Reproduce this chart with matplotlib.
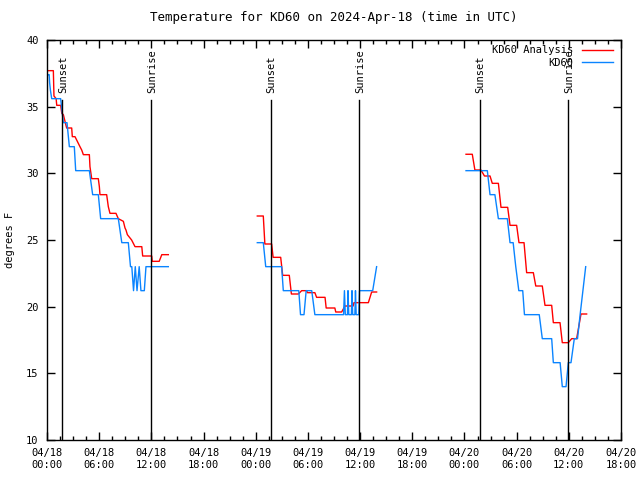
import matplotlib
matplotlib.use("Agg")
import matplotlib.pyplot as plt
import numpy as np

nan = float("nan")

# hours since 2024-04-18 00:00 UTC
analysis_t = [0.15, 0.73, 0.8, 1.05, 1.12, 1.57, 1.7, 1.88, 2.07, 2.26, 2.84, 2.91, 3.22,
              3.79, 3.99, 4.18, 4.87, 4.94, 5.14, 5.9, 6.02, 6.09, 6.86, 7.05, 7.24, 7.93,
              8.2, 8.78, 8.97, 9.08, 9.24, 9.73, 10.12, 10.9, 11.0, 12.04, 12.1, 12.9, 13.2,
              13.95, nan,
              24.18, 24.87, 25.05, 25.83, 26.0, 26.87, 27.1, 27.86, 28.1, 28.9, 29.28, 29.85,
              29.95, 30.8, 31.0, 31.97, 32.1, 33.1, 33.2, 33.88, 34.26, 35.2, 35.3, 36.95,
              37.33, 37.9, nan,
              48.18, 48.9, 49.2, 49.9, 50.3, 50.94, 51.2, 51.9, 52.2, 52.97, 53.24, 54.0,
              54.27, 54.85, 55.15, 55.92, 56.2, 56.95, 57.26, 58.03, 58.22, 58.99, 59.25,
              59.94, 60.33, 60.9, 61.4, 62.05]
analysis_f = [37.7, 37.7, 35.8, 35.6, 35.1, 35.1, 34.5, 34.4, 33.9, 33.4, 33.4, 32.75, 32.75,
              32.0, 31.75, 31.4, 31.4, 30.5, 29.6, 29.6, 29.0, 28.4, 28.4, 27.5, 27.0, 27.0,
              26.6, 26.4, 25.9, 25.75, 25.4, 25.0, 24.5, 24.5, 23.8, 23.8, 23.4, 23.4, 23.9,
              23.9, nan,
              26.8, 26.8, 24.7, 24.7, 23.7, 23.7, 22.35, 22.35, 20.95, 20.95, 21.2, 21.2,
              21.05, 21.05, 20.7, 20.7, 19.9, 19.9, 19.6, 19.6, 20.05, 20.05, 20.3, 20.3,
              21.1, 21.1, nan,
              31.43, 31.43, 30.25, 30.25, 29.8, 29.8, 29.25, 29.25, 27.45, 27.45, 26.1, 26.1,
              24.8, 24.8, 22.55, 22.55, 21.55, 21.55, 20.1, 20.1, 18.8, 18.8, 17.3,
              17.3, 17.6, 17.6, 19.45, 19.45]

obs_t = [0.15, 0.25, 0.3, 0.4, 0.54, 1.57, 1.88, 2.3, 2.57, 3.14, 3.3, 4.87, 5.25, 5.9,
         6.17, 8.2, 8.6, 9.35, 9.6, 9.75, 9.95, 10.15, 10.35, 10.6, 10.8, 11.19, 11.38,
         13.95, nan,
         24.18, 24.87, 25.15, 26.98, 27.17, 28.95, 29.15, 29.55, 29.8, 30.44, 30.8, 34.1,
         34.2, 34.3, 34.55, 34.61, 34.7, 35.0, 35.07, 35.15, 35.4, 35.47, 35.55, 35.85,
         35.93, 37.45, 37.9, nan,
         48.18, 50.63, 50.94, 51.5, 51.9, 52.93, 53.24, 53.6, 53.9, 54.25, 54.7, 54.9,
         56.6, 56.95, 58.03, 58.22, 59.0, 59.25, 59.68, 59.94, 60.25, 60.63, 61.0, 61.3,
         61.94]
obs_f = [37.4, 37.4, 36.8, 36.2, 35.6, 35.6, 33.8, 33.8, 32.0, 32.0, 30.2, 30.2, 28.4,
         28.4, 26.6, 26.6, 24.8, 24.8, 23.0, 23.0, 21.2, 23.0, 21.2, 23.0, 21.2, 21.2,
         23.0, 23.0, nan,
         24.8, 24.8, 23.0, 23.0, 21.2, 21.2, 19.4, 19.4, 21.2, 21.2, 19.4, 19.4,
         21.2, 19.4, 19.4, 21.2, 19.4, 19.4, 21.2, 19.4, 19.4, 21.2, 19.4, 19.4,
         21.2, 21.2, 23.0, nan,
         30.2, 30.2, 28.4, 28.4, 26.6, 26.6, 24.8, 24.8, 23.0, 21.2, 21.2, 19.4,
         19.4, 17.6, 17.6, 15.8, 15.8, 14.0, 14.0, 15.8, 15.8, 17.6, 17.6, 19.4,
         23.0]

sunsets = [1.72, 25.74, 49.76]
sunrises = [11.97, 35.93, 59.9]

tick_hours = np.arange(0, 67, 6)
tick_labels = ["04/18\n00:00", "04/18\n06:00", "04/18\n12:00", "04/18\n18:00",
               "04/19\n00:00", "04/19\n06:00", "04/19\n12:00", "04/19\n18:00",
               "04/20\n00:00", "04/20\n06:00", "04/20\n12:00", "04/20\n18:00"]

plt.rcParams["font.family"] = "DejaVu Sans Mono"
plt.rcParams["font.size"] = 7.5

fig = plt.figure(figsize=(6.4, 4.8), dpi=100)
ax = fig.add_axes([47 / 640, 40 / 480, 574 / 640, 400 / 480])

ax.plot(analysis_t, analysis_f, color="#ff0000", linewidth=1, label="KD60 Analysis")
ax.plot(obs_t, obs_f, color="#0a84ff", linewidth=1, label="KD60")

for t in sunsets:
    ax.plot([t, t], [10, 35.5], color="black", linewidth=1)
    ax.text(t + 0.1, 36.0, "Sunset", rotation=90, ha="center", va="bottom")
for t in sunrises:
    ax.plot([t, t], [10, 35.5], color="black", linewidth=1)
    ax.text(t + 0.1, 36.0, "Sunrise", rotation=90, ha="center", va="bottom")

ax.set_xlim(0, 66)
ax.set_ylim(10, 40)
ax.set_xticks(tick_hours)
ax.set_xticklabels(tick_labels)
ax.set_xticks(np.arange(0, 66.1, 1.5), minor=True)
ax.set_yticks(np.arange(10, 41, 5))
ax.tick_params(direction="in", top=True, right=True, length=6, width=1, pad=6)
ax.tick_params(which="minor", direction="in", top=True, length=3, width=1)
for s in ax.spines.values():
    s.set_linewidth(1)

ax.set_title("Temperature for KD60 on 2024-Apr-18 (time in UTC)", pad=14)
ax.set_ylabel("degrees F", labelpad=8)

ax.legend(loc="upper right", bbox_to_anchor=(0.995, 1.0), frameon=False,
          markerfirst=False, handlelength=3.0, borderaxespad=0.1,
          labelspacing=0.25, handletextpad=0.8)

fig.savefig("out.png", dpi=100)
